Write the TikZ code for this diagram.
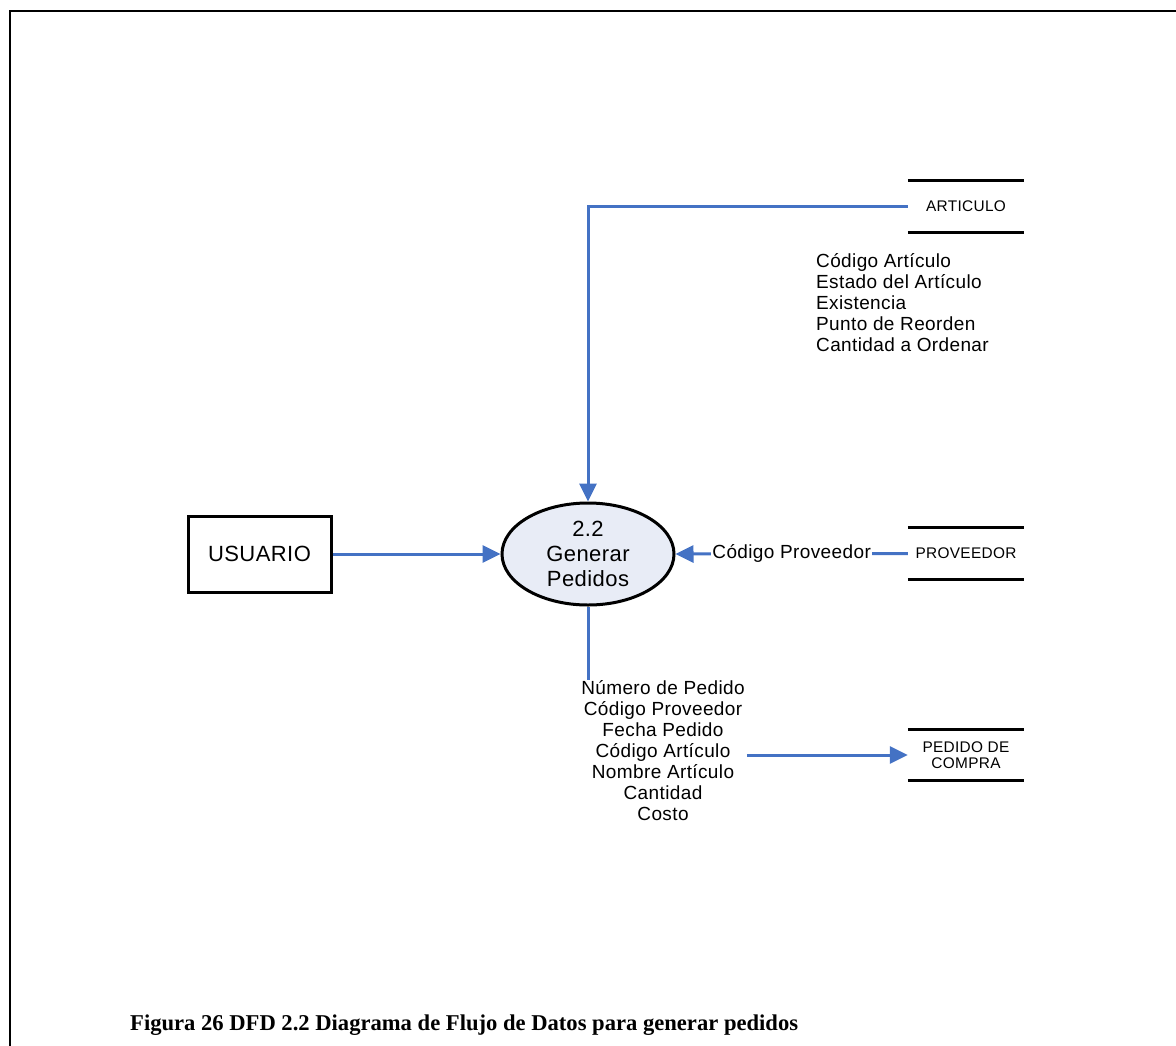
\documentclass[tikz,border=0pt]{standalone}
\usepackage{fontspec}
\setmainfont{Liberation Serif}
\newfontfamily\dfdsans{Liberation Sans}[LetterSpace=2.0]
\usetikzlibrary{arrows.meta,shapes.geometric}

\definecolor{flowblue}{RGB}{68,114,196}
\definecolor{procfill}{RGB}{232,236,246}

\tikzset{
  flow/.style={draw=flowblue, line width=3pt, -{Triangle[length=18pt,width=17pt]}},
  flowplain/.style={draw=flowblue, line width=3pt},
  process/.style={ellipse, draw, line width=3pt, fill=procfill, inner sep=0pt,
    minimum width=172pt, minimum height=102pt, align=center,
    font=\dfdsans\fontsize{22}{25}\selectfont},
  entity/.style={rectangle, draw, line width=3pt, inner sep=0pt,
    minimum width=143pt, minimum height=76pt,
    font=\dfdsans\fontsize{22}{25}\selectfont},
  store/.style={inner sep=0pt, minimum width=116pt, minimum height=51pt, align=center,
    font=\dfdsans\fontsize{15.4}{16.5}\selectfont},
  storeline/.style={line width=3pt},
  datalist/.style={inner sep=0pt, font=\dfdsans\fontsize{19}{21}\selectfont},
  flowlabel/.style={fill=white, inner sep=1pt, font=\dfdsans\fontsize{19}{21}\selectfont},
}

\begin{document}
\begin{tikzpicture}[x=1pt,y=-1pt]
  \useasboundingbox (0,0) rectangle (1176,1045);

  % page frame
  \draw[line width=2pt] (10,1046) -- (10,11) -- (1177,11);

  % process and external entity
  \node[process] (proc) at (588,554) {2.2\\Generar\\Pedidos};
  \node[entity] (user) at (259.5,554) {USUARIO};

  % data stores
  \node[store] (art) at (966,206.5) {ARTICULO};
  \node[store] (prov) at (966,553.5) {PROVEEDOR};
  \node[store] (ped) at (966,755) {PEDIDO DE\\COMPRA};
  \foreach \s in {art,prov,ped}{
    \draw[storeline] (\s.north west) -- (\s.north east);
    \draw[storeline] (\s.south west) -- (\s.south east);
  }

  % data element lists
  \node[datalist, anchor=north west, align=left] (artlist) at (816,253)
    {Código Artículo\\Estado del Artículo\\Existencia\\Punto de Reorden\\Cantidad a Ordenar};
  \node[datalist, anchor=north, align=center] (pedlist) at (663,680)
    {Número de Pedido\\Código Proveedor\\Fecha Pedido\\Código Artículo\\Nombre Artículo\\Cantidad\\Costo};

  % data flows
  \draw[flow] (user.east) -- (proc.west);
  \draw[flow] (art.west) -| (proc.north);
  \draw[flow] (prov.west) -- node[flowlabel, pos=0.5] {Código Proveedor} (proc.east);
  \draw[flowplain] (proc.south) -- (proc.south |- pedlist.north);
  \draw[flow] ([xshift=2pt]pedlist.east |- ped.west) -- (ped.west);

  % caption
  \node[anchor=base west, inner sep=0pt, font=\bfseries\fontsize{22.6}{25}\selectfont] (cap) at (130,1030)
    {Figura 26 DFD 2.2 Diagrama de Flujo de Datos para generar pedidos};
\end{tikzpicture}
\end{document}
